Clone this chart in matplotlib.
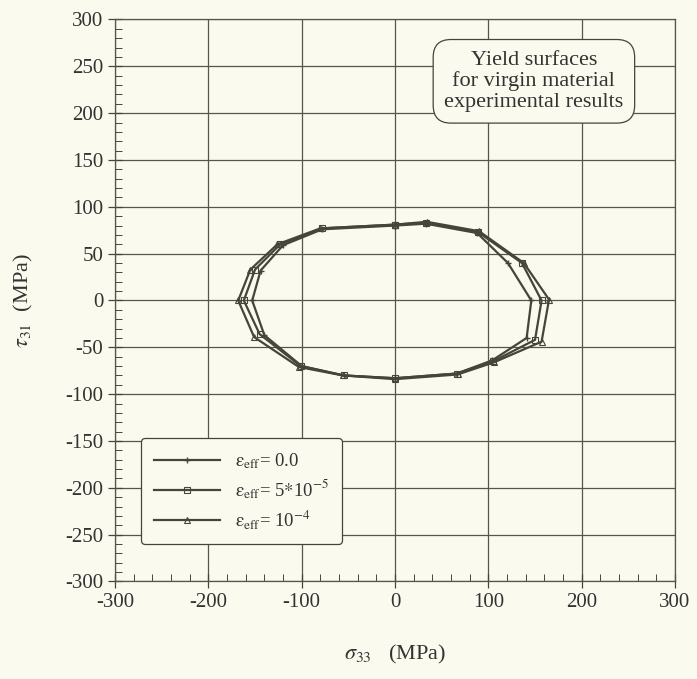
import numpy as np
import matplotlib.pyplot as plt
from matplotlib.ticker import MultipleLocator

plt.rcParams["font.family"] = ["Liberation Serif", "DejaVu Serif"]
plt.rcParams["mathtext.fontset"] = "stix"
plt.rcParams["axes.unicode_minus"] = False

# yield surface points (sigma_33, tau_31) in MPa, closed loops
sig_e0 = [0, 33, 88, 121, 146, 141, 104, 66, 0, -55, -100, -140, -153, -144, -120, -78, 0]
tau_e0 = [80, 82, 72, 40, 0, -40, -64, -78, -83, -80, -70, -37, 0, 32, 59, 76, 80]

sig_e5 = [0, 33, 89, 136, 157, 150, 105, 66, 0, -55, -101, -145, -162, -150, -123, -78, 0]
tau_e5 = [81, 83, 73, 40, 0, -42, -65, -78, -83, -80, -70, -36, 0, 33, 60, 77, 81]

sig_e4 = [0, 34, 90, 138, 165, 157, 106, 67, 0, -56, -103, -151, -168, -155, -126, -80, 0]
tau_e4 = [81, 84, 74, 40, 1, -44, -66, -79, -84, -80, -71, -39, 0, 33, 60, 77, 81]

labels = [r"$\mathrm{\varepsilon}_{\rm eff}$= 0.0",
          r"$\mathrm{\varepsilon}_{\rm eff}$= 5$*$10$^{\mathrm{-5}}$",
          r"$\mathrm{\varepsilon}_{\rm eff}$= 10$^{\mathrm{-4}}$"]

BG = "#fafaee"
INK = "#45453a"

fig = plt.figure(figsize=(6.97, 6.79), dpi=100, facecolor=BG)
ax = fig.add_axes([0.165, 0.1436, 0.8035, 0.8277], facecolor=BG)

ax.plot(sig_e0, tau_e0, color=INK, lw=1.6, marker="+", ms=5, mew=1.0, label=labels[0])
ax.plot(sig_e5, tau_e5, color=INK, lw=1.6, marker="s", ms=4, mfc="none", mew=0.8, label=labels[1])
ax.plot(sig_e4, tau_e4, color=INK, lw=1.6, marker="^", ms=4, mfc="none", mew=0.8, label=labels[2])

ax.set_xlim(-300, 300)
ax.set_ylim(-300, 300)
ax.xaxis.set_major_locator(MultipleLocator(100))
ax.xaxis.set_minor_locator(MultipleLocator(20))
ax.yaxis.set_major_locator(MultipleLocator(50))
ax.yaxis.set_minor_locator(MultipleLocator(10))
ax.grid(True, which="major", color="#55554b", lw=0.9)
ax.tick_params(which="major", direction="inout", length=10, width=0.9, color=INK,
               labelsize=15, labelcolor="#333")
ax.tick_params(which="minor", direction="in", length=5, width=0.7, color=INK)
for s in ax.spines.values():
    s.set_color("#55554b")
    s.set_linewidth(0.9)

ax.set_xlabel(r"$\sigma_{33}$   (MPa)", fontsize=16, color="#333", labelpad=22)
ax.set_ylabel(r"$\tau_{31}$  (MPa)", fontsize=16, color="#333", labelpad=22)

leg = ax.legend(loc="lower left", bbox_to_anchor=(0.03, 0.05), fontsize=13.5,
                handlelength=3.5, labelspacing=0.35, borderpad=0.7,
                fancybox=True, facecolor=BG, edgecolor=INK, framealpha=1,
                labelcolor="#333")
leg.get_frame().set_linewidth(0.9)

ax.text(0.748, 0.89, "Yield surfaces\nfor virgin material\nexperimental results",
        transform=ax.transAxes, ha="center", va="center", fontsize=16, color="#333",
        linespacing=1.12,
        bbox=dict(boxstyle="round,pad=0.5,rounding_size=0.8", fc=BG, ec=INK, lw=0.9))

fig.savefig("out.png", dpi=100, facecolor=BG)
